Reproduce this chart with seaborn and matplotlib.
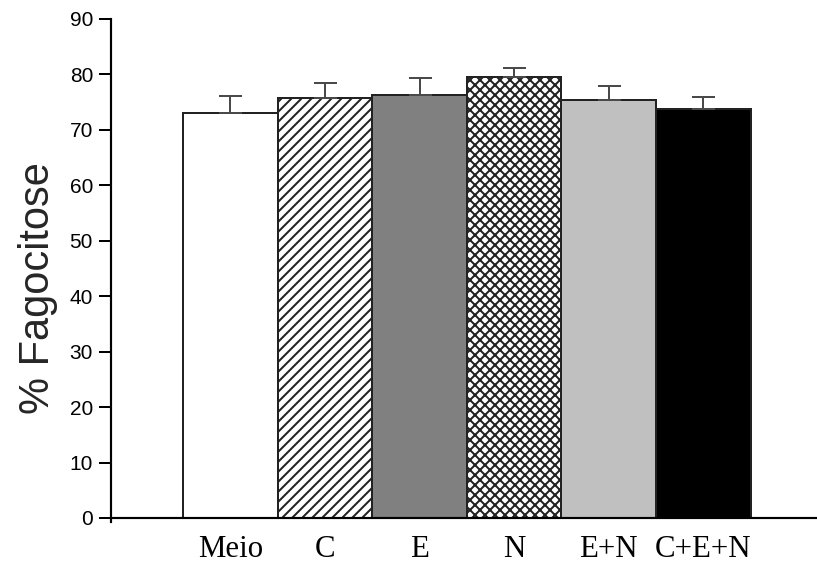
import matplotlib
matplotlib.use("Agg")
import matplotlib.pyplot as plt
import seaborn as sns
import pandas as pd
import numpy as np

categories = ["Meio", "C", "E", "N", "E+N", "C+E+N"]
means = [73.05, 75.8, 76.35, 79.6, 75.4, 73.7]
errors = [3.05, 2.7, 3.05, 1.6, 2.5, 2.2]
colors = ["#ffffff", "#ffffff", "#808080", "#ffffff", "#c0c0c0", "#000000"]
hatches = ["", "////", "", "xxxx", "", ""]
yticks = [0, 10, 20, 30, 40, 50, 60, 70, 80, 90]

DPI = 120
sns.set_style("white")
plt.rcParams["font.family"] = ["Liberation Sans", "DejaVu Sans"]
plt.rcParams["hatch.linewidth"] = 1.2

fig = plt.figure(figsize=(817 / DPI, 572 / DPI), dpi=DPI)
ax = fig.add_axes([111 / 817, (572 - 522.4) / 572, 1 - 111 / 817, (522.4 - 19) / 572])

df = pd.DataFrame({"cat": categories, "val": means})
sns.barplot(data=df, x="cat", y="val", hue="cat", palette=colors, legend=False,
            width=1.0, edgecolor="#222222", linewidth=1.2, saturation=1.0, ax=ax,
            errorbar=None)

for p, h in zip(ax.patches, hatches):
    if h:
        p.set_hatch(h)

xpos = np.arange(len(categories))
ax.errorbar(xpos, means, yerr=[np.zeros(len(errors)), errors], fmt="none",
            ecolor="#4a4a4a", elinewidth=1.2, capsize=6.9, capthick=1.2, zorder=1)

for s in ["top", "right"]:
    ax.spines[s].set_visible(False)
ax.spines["bottom"].set_position(("data", 0))
ax.spines["left"].set_linewidth(1.3)
ax.spines["bottom"].set_linewidth(1.3)
ax.spines["left"].set_color("black")
ax.spines["bottom"].set_color("black")

ax.set_xlim(-1.26, 6.2)
ax.set_ylim(-0.8, 90)
ax.set_xlabel("")
ax.set_ylabel("")
ax.set_yticks(yticks)
ax.set_yticklabels([str(t) for t in yticks])
ax.set_xticks(xpos)
ax.set_xticklabels(categories)

ax.tick_params(axis="y", which="major", direction="out", length=7.2, width=1.2,
               pad=3.6, left=True, colors="black", labelsize=12.5)
ax.tick_params(axis="x", which="major", length=0, pad=10, colors="black", labelsize=18.5)
for lab in ax.get_xticklabels():
    lab.set_fontfamily(["Liberation Serif", "DejaVu Serif"])

fig.text(38 / 817, 1 - 288 / 572, "% Fagocitose", rotation=90, ha="center",
         va="center", fontsize=25)

fig.savefig("out.png", dpi=DPI)
